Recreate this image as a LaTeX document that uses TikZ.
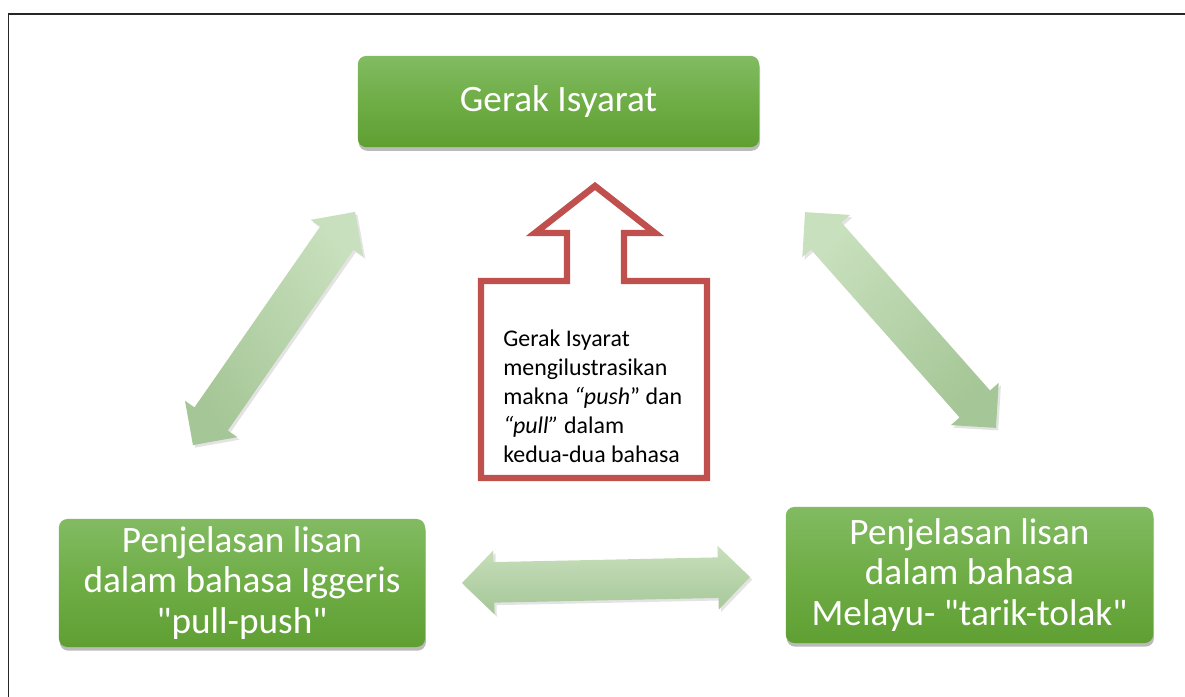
\documentclass[tikz,border=0pt]{standalone}
\usepackage{fontspec}
\setmainfont{Carlito}[Ligatures=TeXOff]
\usetikzlibrary{calc, shapes.arrows, shadows}

\definecolor{boxtop}{RGB}{130,187,98}
\definecolor{boxmid}{RGB}{111,173,70}
\definecolor{boxbot}{RGB}{95,159,50}
\definecolor{arrtop}{RGB}{200,224,189}
\definecolor{arrbot}{RGB}{165,198,150}
\definecolor{calloutred}{RGB}{192,80,77}

\tikzset{
  greenbox/.style={rounded corners=6pt, top color=boxtop, bottom color=boxbot,
    middle color=boxmid, text=white, align=center, inner sep=0pt,
    font=\fontsize{26.5}{28.5}\selectfont,
    drop shadow={opacity=0.45, shadow xshift=0.6pt, shadow yshift=-2.6pt, fill=black!60}},
  linkarrow/.style={double arrow, double arrow head extend=0.29cm,
    inner sep=0.5cm, top color=arrtop, bottom color=arrbot,
    drop shadow={opacity=0.18, shadow xshift=1.6pt, shadow yshift=-1.8pt, fill=black!60}},
  callout/.style={draw=calloutred, line width=4.6pt, miter limit=10, fill=white},
  notetext/.style={font=\fontsize{17}{20.6}\selectfont, align=left, inner sep=0pt}
}

\begin{document}
\begin{tikzpicture}[x=0.025cm, y=-0.025cm]
  % 1 unit = 1px of the 1185x697 frame, y grows downward
  \useasboundingbox (0,0) rectangle (1185,697);
  \coordinate (FL) at (8.5,697);
  \coordinate (FC) at (8.5,14);
  \coordinate (FR) at (1185,14);
  \draw[line width=1.4pt, black!85] (FL) -- (FC) -- (FR);

  % the three green boxes
  \node[greenbox, minimum width=10.03cm, minimum height=2.28cm] (gerak) at (558.5,101.5) {Gerak Isyarat};
  \node[greenbox, minimum width=9.15cm, minimum height=3.2cm] (english) at (242,583)
    {Penjelasan lisan\\dalam bahasa Iggeris\\"pull-push"};
  \node[greenbox, minimum width=9.18cm, minimum height=3.4cm] (malay) at (969.5,575)
    {Penjelasan lisan\\dalam bahasa\\Melayu- "tarik-tolak"};

  % block arrows between the boxes (shading kept upright)
  \node[linkarrow, minimum height=7.1cm, rotate=55.2, shading angle=-55.2]
    (gerak-english) at (274,328.5) {};
  \node[linkarrow, minimum height=7.2cm, rotate=-48.5, shading angle=48.5]
    (gerak-malay) at (900.5,320) {};
  \node[linkarrow, minimum height=7.2cm, rotate=1.2]
    (english-malay) at (606,580) {};

  % red up-arrow callout
  \draw[callout] (595,186) -- (655,233) -- (624,233) -- (624,281) -- (707,281)
    -- (707,478) -- (481,478) -- (481,281) -- (567,281) -- (567,233) -- (535,233) -- cycle;
  \node[notetext, anchor=north west] (note) at (503,330)
    {Gerak Isyarat\\mengilustrasikan\\makna \textit{“push}” dan\\\textit{“pull”} dalam\\kedua-dua bahasa};
\end{tikzpicture}
\end{document}
